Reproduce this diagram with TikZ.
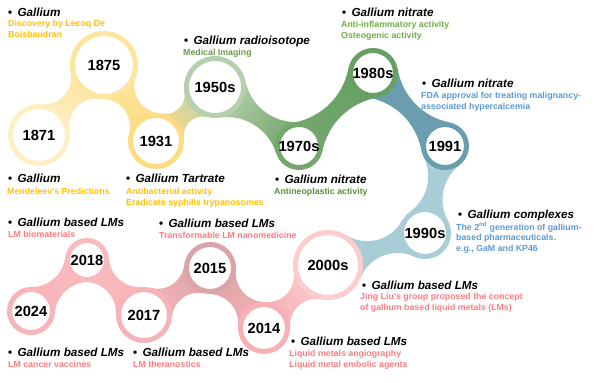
\documentclass[tikz,border=0pt]{standalone}
\usepackage{fontspec}
\setmainfont{Liberation Sans}
\usetikzlibrary{calc,backgrounds}
\definecolor{yA}{HTML}{FDEEC4}
\definecolor{yB}{HTML}{FDE59E}
\definecolor{yC}{HTML}{FDDC83}
\definecolor{gA}{HTML}{B6D0AE}
\definecolor{gB}{HTML}{74A66E}
\definecolor{gC}{HTML}{67A063}
\definecolor{bA}{HTML}{6A9DAE}
\definecolor{bB}{HTML}{A8CDD7}
\definecolor{pA}{HTML}{FBCDCF}
\definecolor{pB}{HTML}{F7B0B4}
\definecolor{pC}{HTML}{D9A5A8}
\definecolor{pD}{HTML}{F7B4B8}
\definecolor{pE}{HTML}{F9BABD}
\definecolor{pF}{HTML}{F8B4B8}
\definecolor{txY}{HTML}{FFC000}
\definecolor{txG1}{HTML}{6A9A4A}
\definecolor{txG2}{HTML}{70AD47}
\definecolor{txG3}{HTML}{548F3A}
\definecolor{txB}{HTML}{5B9BD5}
\definecolor{txP}{HTML}{FF7C80}
\newcommand\yrfont{\fontsize{14.7}{16}\selectfont\bfseries}
\newcommand\ttlfont{\fontsize{11.7}{13}\selectfont\bfseries\itshape}
\newcommand\subfont{\fontsize{8.8}{11}\selectfont\bfseries}
\newcommand\bul{{\upshape •}\hspace{5.3pt}}
\def\nkh{8.5}
\newcommand\neck[6]{%
  \pgfpointanchor{#1}{center}\pgfgetlastxy{\nkAx}{\nkAy}%
  \pgfpointanchor{#2}{center}\pgfgetlastxy{\nkBx}{\nkBy}%
  \pgfmathsetmacro\nkax{\nkAx}%
  \pgfmathsetmacro\nkay{\nkAy}%
  \pgfmathsetmacro\nkbx{\nkBx}%
  \pgfmathsetmacro\nkby{\nkBy}%
  \pgfmathsetmacro\nkd{veclen(\nkbx-\nkax,\nkby-\nkay)}%
  \pgfmathsetmacro\nkth{atan2(\nkby-\nkay,\nkbx-\nkax)}%
  \pgfmathsetmacro\nkr{(#3+#4)/2}%
  \pgfmathsetmacro\nkR{((\nkd/2)^2+\nkh^2-\nkr^2)/(2*(\nkr-\nkh))}%
  \pgfmathsetmacro\nka{#3+\nkR}%
  \pgfmathsetmacro\nkb{#4+\nkR}%
  \pgfmathsetmacro\nkcph{((\nka/10)^2+(\nkd/10)^2-(\nkb/10)^2)/(2*(\nka/10)*(\nkd/10))}%
  \pgfmathsetmacro\nkph{acos(\nkcph)}%
  \pgfmathsetmacro\nkfax{\nkax+\nka*cos(\nkth+\nkph)}%
  \pgfmathsetmacro\nkfay{\nkay+\nka*sin(\nkth+\nkph)}%
  \pgfmathsetmacro\nkfbx{\nkax+\nka*cos(\nkth-\nkph)}%
  \pgfmathsetmacro\nkfby{\nkay+\nka*sin(\nkth-\nkph)}%
  \pgfmathsetmacro\nksA{\nkth+\nkph+180}%
  \pgfmathsetmacro\nkeA{atan2(\nkby-\nkfay,\nkbx-\nkfax)}%
  \pgfmathsetmacro\nkdA{mod(\nkeA-\nksA+900,360)-180}%
  \pgfmathsetmacro\nksB{atan2(\nkby-\nkfby,\nkbx-\nkfbx)}%
  \pgfmathsetmacro\nkeB{\nkth-\nkph+180}%
  \pgfmathsetmacro\nkdB{mod(\nkeB-\nksB+900,360)-180}%
  \pgfmathsetmacro\nksa{\nkth+90}%
  \shade[top color=#5, bottom color=#6, shading angle=\nksa]
    (#1.center) -- ($(#1.center)+(\nkth+\nkph:#3pt)$)
    arc[start angle=\nksA, delta angle=\nkdA, radius=\nkR pt]
    -- (#2.center) -- ($(#2.center)+(\nksB+180:#4pt)$)
    arc[start angle=\nksB, delta angle=\nkdB, radius=\nkR pt] -- cycle;
}
\begin{document}
\begin{tikzpicture}[x=1pt,y=1pt,
  yr/.style={circle, inner sep=0pt, line width=5pt, fill=white, font=\yrfont},
  ttl/.style={anchor=base west, inner sep=0pt, font=\ttlfont},
  sub/.style={anchor=base west, inner sep=0pt, font=\subfont}]
\useasboundingbox (0,0) rectangle (600,-383);
% year circles
\node[yr, draw=yA, minimum size=57pt] (n1871) at (39,-135) {1871};
\node[yr, draw=yB, minimum size=63pt] (n1875) at (104,-65) {1875};
\node[yr, draw=yC, minimum size=51pt] (n1931) at (156,-141) {1931};
\node[yr, draw=gA, minimum size=57pt] (n1950) at (215,-87) {1950s};
\node[yr, draw=gB, minimum size=43pt] (n1970) at (299,-146) {1970s};
\node[yr, draw=gC, minimum size=45pt] (n1980) at (373,-73) {1980s};
\node[yr, draw=bA, minimum size=43pt] (n1991) at (445,-146) {1991};
\node[yr, draw=bB, minimum size=47pt] (n1990) at (425,-233) {1990s};
\node[yr, draw=pA, minimum size=65pt] (n2000) at (328,-265) {2000s};
\node[yr, draw=pB, minimum size=47pt] (n2014) at (264,-328) {2014};
\node[yr, draw=pC, minimum size=47pt] (n2015) at (210,-268) {2015};
\node[yr, draw=pD, minimum size=51pt] (n2017) at (144,-315) {2017};
\node[yr, draw=pE, minimum size=39pt] (n2018) at (87,-260) {2018};
\node[yr, draw=pF, minimum size=43pt] (n2024) at (31,-311) {2024};
% necks
\begin{pgfonlayer}{background}
\neck{n1871}{n1875}{31}{34}{yA}{yB}
\neck{n1875}{n1931}{34}{28}{yB}{yC}
\neck{n1931}{n1950}{28}{31}{yC}{gA}
\neck{n1950}{n1970}{31}{24}{gA}{gB}
\neck{n1970}{n1980}{24}{25}{gB}{gC}
\neck{n1980}{n1991}{25}{24}{bA}{bA}
\neck{n1991}{n1990}{24}{26}{bB}{bB}
\neck{n1990}{n2000}{26}{35}{bB}{bB}
\neck{n2000}{n2014}{35}{26}{pA}{pB}
\neck{n2014}{n2015}{26}{26}{pB}{pC}
\neck{n2015}{n2017}{26}{28}{pC}{pD}
\neck{n2017}{n2018}{28}{22}{pD}{pE}
\neck{n2018}{n2024}{22}{24}{pE}{pF}
\end{pgfonlayer}
% texts
\node[ttl] (t1) at (8,-16) {\bul Gallium};
\node[sub, text=txY] (s1a) at (8,-26) {Discovery by Lecoq De};
\node[sub, text=txY] (s1b) at (8,-37) {Boisbaudran};
\node[ttl] (t2) at (8,-182) {\bul Gallium};
\node[sub, text=txY] (s2a) at (7,-194) {Mendeleev's Predictions};
\node[ttl] (t3) at (126,-182) {\bul Gallium Tartrate};
\node[sub, text=txY] (s3a) at (126,-194) {Antibacterial activity};
\node[sub, text=txY] (s3b) at (126,-205) {Eradicate syphilis trypanosomes};
\node[ttl] (t4) at (184,-44) {\bul Gallium radioisotope};
\node[sub, text=txG1] (s4a) at (183,-55) {Medical Imaging};
\node[ttl] (t5) at (342,-16) {\bul Gallium nitrate};
\node[sub, text=txG2] (s5a) at (341,-27) {Anti-inflammatory activity};
\node[sub, text=txG2] (s5b) at (341,-38) {Osteogenic activity};
\node[ttl] (t6) at (275,-183) {\bul Gallium nitrate};
\node[sub, text=txG3] (s6a) at (274,-194) {Antineoplastic activity};
\node[ttl] (t7) at (422,-87) {\bul Gallium nitrate};
\node[sub, text=txB] (s7a) at (421,-98) {FDA approval for treating malignancy-};
\node[sub, text=txB] (s7b) at (421,-109) {associated hypercalcemia};
\node[ttl] (t8) at (458,-218) {\bul Gallium complexes};
\node[sub, text=txB] (s8a) at (456,-230) {The 2\textsuperscript{nd} generation of gallium-};
\node[sub, text=txB] (s8b) at (456,-240.5) {based pharmaceuticals.};
\node[sub, text=txB] (s8c) at (456,-251) {e.g., GaM and KP46};
\node[ttl] (t9) at (362,-289) {\bul Gallium based LMs};
\node[sub, text=txP] (s9a) at (360,-299) {Jing Liu's group proposed the concept};
\node[sub, text=txP] (s9b) at (360,-310) {of gallium based liquid metals (LMs)};
\node[ttl] (t10) at (291,-345) {\bul Gallium based LMs};
\node[sub, text=txP] (s10a) at (289,-356) {Liquid metals angiography};
\node[sub, text=txP] (s10b) at (289,-367) {Liquid metal embolic agents};
\node[ttl] (t11) at (8,-226) {\bul Gallium based LMs};
\node[sub, text=txP] (s11a) at (8,-237) {LM biomaterials};
\node[ttl] (t12) at (159,-227) {\bul Gallium based LMs};
\node[sub, text=txP] (s12a) at (159,-238) {Transformable LM nanomedicine};
\node[ttl] (t13) at (8,-356) {\bul Gallium based LMs};
\node[sub, text=txP] (s13a) at (8,-367) {LM cancer vaccines};
\node[ttl] (t14) at (133,-356) {\bul Gallium based LMs};
\node[sub, text=txP] (s14a) at (133,-367) {LM theranostics};
\end{tikzpicture}
\end{document}
